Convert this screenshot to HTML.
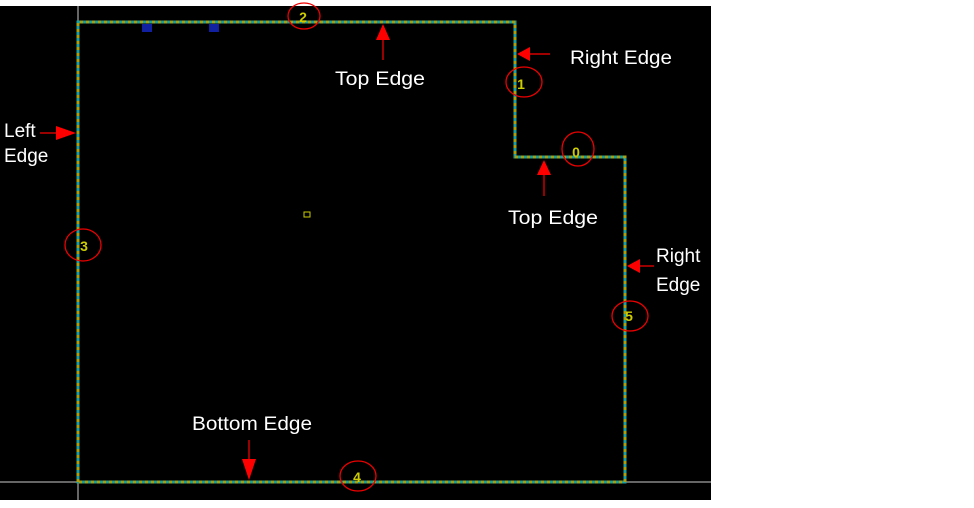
<!DOCTYPE html>
<html><head><style>html,body{margin:0;padding:0;background:#fff;width:974px;height:508px;overflow:hidden}</style></head>
<body>
<svg width="974" height="508" xmlns="http://www.w3.org/2000/svg" font-family="Liberation Sans, sans-serif">
<rect x="0" y="6" width="711" height="494" fill="#000"/>
<line x1="78" y1="6" x2="78" y2="500" stroke="#666" stroke-width="2"/>
<line x1="0" y1="482" x2="711" y2="482" stroke="#666" stroke-width="2"/>
<path d="M78,482 L78,22 L515,22 L515,157 L625,157 L625,482 Z" fill="none" stroke="#1aa0a0" stroke-width="3"/>
<path d="M78,482 L78,22 L515,22 L515,157 L625,157 L625,482 Z" fill="none" stroke="#a8a010" stroke-width="3" stroke-dasharray="3,3"/>
<rect x="142" y="24" width="10" height="8" fill="#1020a0"/>
<rect x="209" y="24" width="10" height="8" fill="#1020a0"/>
<rect x="304" y="212" width="6" height="5" fill="none" stroke="#cc0" stroke-width="1"/>
<g fill="#cc0" font-size="14" font-weight="bold" text-anchor="middle">
<text x="303" y="22">2</text><text x="521" y="89">1</text><text x="576" y="157">0</text>
<text x="84" y="251">3</text><text x="629" y="321">5</text><text x="357" y="482">4</text></g>
<g fill="none" stroke="#e00" stroke-width="1.3">
<ellipse cx="304" cy="16" rx="16" ry="13"/><ellipse cx="524" cy="82" rx="18" ry="15"/>
<ellipse cx="578" cy="149" rx="16" ry="17"/><ellipse cx="83" cy="245" rx="18" ry="16"/>
<ellipse cx="630" cy="316" rx="18" ry="15"/><ellipse cx="358" cy="476" rx="18" ry="15"/></g>
<g fill="#f00" stroke="#f00">
<line x1="383" y1="40" x2="383" y2="60" stroke-width="1.2"/><polygon points="376,40 390,40 383,24" stroke="none"/>
<line x1="530" y1="54" x2="550" y2="54" stroke-width="1.2"/><polygon points="530,47 530,61 517,54" stroke="none"/>
<line x1="40" y1="133" x2="56" y2="133" stroke-width="1.2"/><polygon points="56,126 56,140 76,133" stroke="none"/>
<line x1="544" y1="175" x2="544" y2="196" stroke-width="1.2"/><polygon points="537,175 551,175 544,160" stroke="none"/>
<line x1="640" y1="266" x2="654" y2="266" stroke-width="1.2"/><polygon points="640,259 640,273 627,266" stroke="none"/>
<line x1="249" y1="440" x2="249" y2="459" stroke-width="1.2"/><polygon points="242,459 256,459 249,480" stroke="none"/>
</g>
<g fill="#fff" font-size="19">
<text x="335" y="85" textLength="90" lengthAdjust="spacingAndGlyphs">Top Edge</text>
<text x="570" y="64" textLength="102" lengthAdjust="spacingAndGlyphs">Right Edge</text>
<text x="4" y="137">Left</text><text x="4" y="162">Edge</text>
<text x="508" y="224" textLength="90" lengthAdjust="spacingAndGlyphs">Top Edge</text>
<text x="656" y="262">Right</text><text x="656" y="291">Edge</text>
<text x="192" y="430" textLength="120" lengthAdjust="spacingAndGlyphs">Bottom Edge</text>
</g>
</svg>
</body></html>
